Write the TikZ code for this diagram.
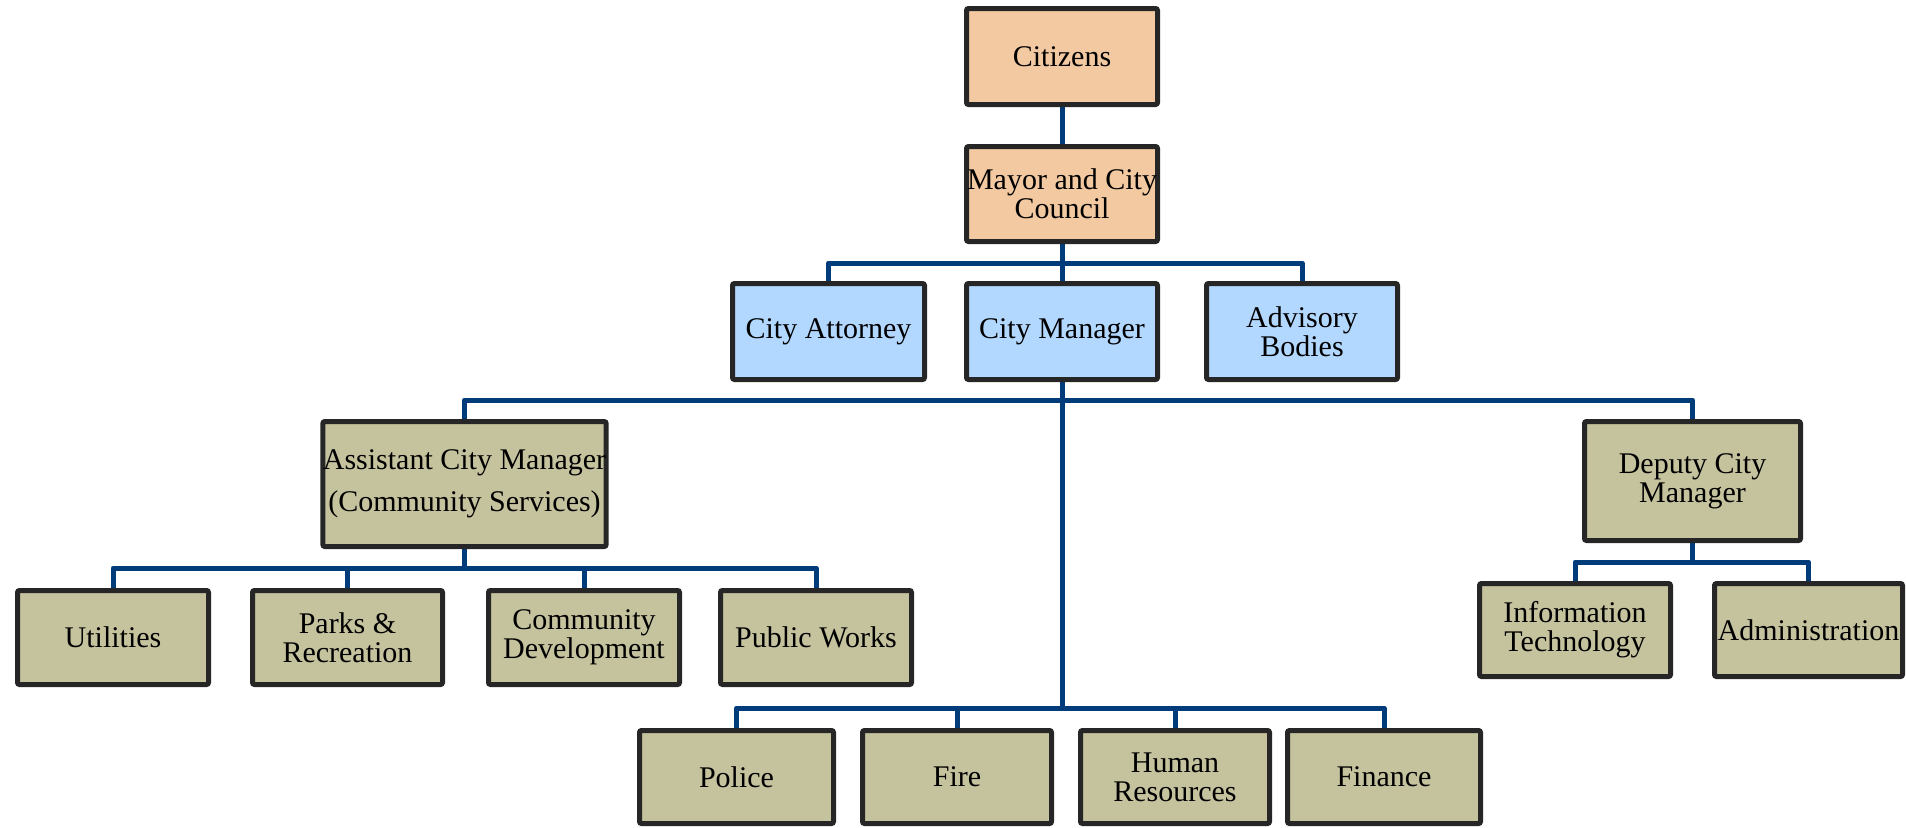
\documentclass[tikz,border=0pt]{standalone}
\usepackage{fontspec}
\setmainfont{Liberation Serif}
\usetikzlibrary{backgrounds}
\definecolor{peach}{HTML}{F2C9A1}
\definecolor{skyb}{HTML}{B3D8FF}
\definecolor{khaki}{HTML}{C5C29E}
\definecolor{edgec}{HTML}{262626}
\definecolor{navy}{HTML}{003B7A}
\tikzset{
  box/.style={draw=edgec, line width=2.5pt, rounded corners=1pt, align=center,
    inner sep=0pt, font=\fontsize{15}{14.5}\selectfont, text=black},
  topbox/.style={box, fill=peach},
  midbox/.style={box, fill=skyb},
  lowbox/.style={box, fill=khaki},
  conn/.style={draw=navy, line width=2.5pt, line join=round, line cap=round},
}
\begin{document}
\begin{tikzpicture}[x=0.5pt, y=-0.5pt]
\useasboundingbox (0,0) rectangle (1906,827);
% top
\node[topbox, minimum width=95.5pt, minimum height=48pt] (citizens) at (1062,56.5) {Citizens};
\node[topbox, minimum width=95.5pt, minimum height=47.5pt] (mayor) at (1062,194) {Mayor and City\\Council};
% second level
\node[midbox, minimum width=96pt, minimum height=48pt] (attorney) at (828.5,331.5) {City Attorney};
\node[midbox, minimum width=95.5pt, minimum height=48pt] (cm) at (1062,331.5) {City Manager};
\node[midbox, minimum width=95.5pt, minimum height=48pt] (advisory) at (1302,331.5) {Advisory\\Bodies};
% third level
\node[lowbox, minimum width=139pt, minimum height=62.5pt] (acm) at (464.5,484) {Assistant City Manager\\[6.5pt](Community Services)};
\node[lowbox, minimum width=108pt, minimum height=59.5pt] (deputy) at (1692.5,481) {Deputy City\\Manager};
% community services
\node[lowbox, minimum width=95.5pt, minimum height=47pt] (utilities) at (113,637.5) {Utilities};
\node[lowbox, minimum width=95pt, minimum height=47pt] (parks) at (347.5,637.5) {Parks \&\\Recreation};
\node[lowbox, minimum width=95.5pt, minimum height=47pt] (community) at (584,637.5) {Community\\Development};
\node[lowbox, minimum width=95.5pt, minimum height=47pt] (publicworks) at (816,637.5) {Public Works};
% deputy
\node[lowbox, minimum width=95.5pt, minimum height=46.5pt] (it) at (1575,630) {Information\\Technology};
\node[lowbox, minimum width=94pt, minimum height=46.5pt] (admin) at (1808.5,630) {Administration};
% bottom row
\node[lowbox, minimum width=97pt, minimum height=46.5pt] (police) at (736.5,777) {Police};
\node[lowbox, minimum width=94.5pt, minimum height=46.5pt] (fire) at (957,777) {Fire};
\node[lowbox, minimum width=94.5pt, minimum height=46.5pt] (hr) at (1175,777) {Human\\Resources};
\node[lowbox, minimum width=96.5pt, minimum height=46.5pt] (finance) at (1384,777) {Finance};
% bus points
\coordinate (b1) at (1062,263);
\coordinate (b2) at (1062,400);
\coordinate (b3) at (1062,708);
\coordinate (b4) at (464.5,568);
\coordinate (b5) at (1692.5,562);
\begin{scope}[on background layer]
\draw[conn] (citizens.south) -- (mayor.north);
\draw[conn] (mayor.south) -- (b1) -- (cm.north);
\draw[conn] (attorney.north) |- (b1) -| (advisory.north);
\draw[conn] (cm.south) -- (b2) -- (b3);
\draw[conn] (acm.north) |- (b2) -| (deputy.north);
\draw[conn] (acm.south) -- (b4);
\draw[conn] (utilities.north) |- (b4) -| (publicworks.north);
\draw[conn] (parks.north) |- (b4);
\draw[conn] (community.north) |- (b4);
\draw[conn] (deputy.south) -- (b5);
\draw[conn] (it.north) |- (b5) -| (admin.north);
\draw[conn] (police.north) |- (b3) -| (finance.north);
\draw[conn] (fire.north) |- (b3);
\draw[conn] (hr.north) |- (b3);
\end{scope}
\end{tikzpicture}
\end{document}
